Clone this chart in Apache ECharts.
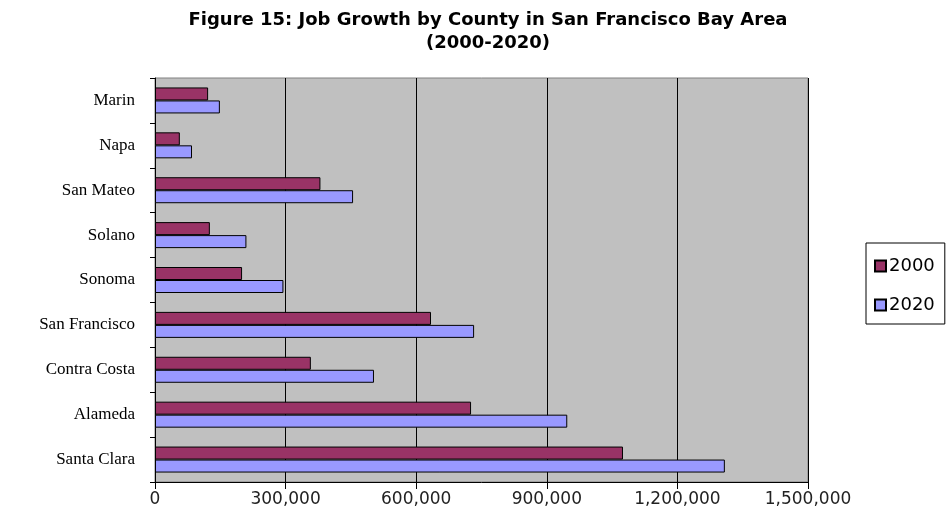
<!DOCTYPE html>
<html>
<head>
<meta charset="utf-8">
<script src="https://cdn.jsdelivr.net/npm/echarts@6/dist/echarts.min.js"></script>
<style>
html,body{margin:0;padding:0;background:#fff;}
#c{width:950px;height:527px;}
</style>
</head>
<body>
<div id="c"></div>
<script>
var titleText = 'Figure 15: Job Growth by County in San Francisco Bay Area\n(2000-2020)';
var counties = ['Santa Clara','Alameda','Contra Costa','San Francisco','Sonoma','Solano','San Mateo','Napa','Marin'];
var jobs2000 = [1075000, 726000, 358000, 634000, 200000, 126000, 380000, 57000, 122000];
var jobs2020 = [1309000, 947000, 503000, 733000, 295000, 210000, 455000, 85000, 149000];
var seriesNames = ['2000','2020'];
var xTicks = [0, 300000, 600000, 900000, 1200000, 1500000];

var chart = echarts.init(document.getElementById('c'), null, {renderer:'canvas'});
chart.setOption({
  animation:false,
  backgroundColor:'#ffffff',
  title:{
    text:titleText,
    left:483, top:4, textAlign:'center',
    textStyle:{fontFamily:'DejaVu Sans, Arial', fontWeight:'bold', fontSize:18, lineHeight:23, color:'#000'}
  },
  legend:{
    data:seriesNames,
    orient:'vertical',
    left:866, top:243,
    width:84,
    padding:[14,10,10,8],
    itemGap:21,
    itemWidth:11, itemHeight:11,
    icon:'rect',
    borderColor:'#000', borderWidth:1,
    backgroundColor:'#fff',
    textStyle:{fontFamily:'DejaVu Sans, Arial', fontSize:18, color:'#000', padding:[0,0,0,-2]}
  },
  grid:{
    left:155, right:142, top:78, bottom:45,
    show:true, backgroundColor:'#c0c0c0', borderColor:'#808080', borderWidth:1,
    containLabel:false
  },
  xAxis:{
    type:'value', min:0, max:1500000, interval:300000,
    axisLine:{show:true, lineStyle:{color:'#000', width:1}},
    axisTick:{show:true, length:7, inside:false, lineStyle:{color:'#000'}},
    splitLine:{show:true, lineStyle:{color:'#000', width:1}},
    axisLabel:{
      margin:9,
      fontFamily:'DejaVu Sans, Arial', fontSize:17, color:'#222',
      formatter:function(v){ return xTicks.indexOf(v) >= 0 ? v.toLocaleString('en-US') : ''; }
    }
  },
  yAxis:{
    type:'category', data:counties,
    axisLine:{show:true, lineStyle:{color:'#000', width:1}},
    axisTick:{show:true, length:5, inside:false, alignWithLabel:false, lineStyle:{color:'#000'}},
    axisLabel:{margin:20, fontFamily:'Liberation Serif, Times New Roman', fontSize:17, color:'#000'}
  },
  series:[
    {
      name:'2000', type:'bar', data:jobs2000,
      barWidth:13, barGap:'0%',
      itemStyle:{color:'#993366', borderColor:'#000', borderWidth:1}
    },
    {
      name:'2020', type:'bar', data:jobs2020,
      barWidth:13, barGap:'0%',
      itemStyle:{color:'#9999ff', borderColor:'#000', borderWidth:1}
    }
  ]
});
</script>
</body>
</html>
